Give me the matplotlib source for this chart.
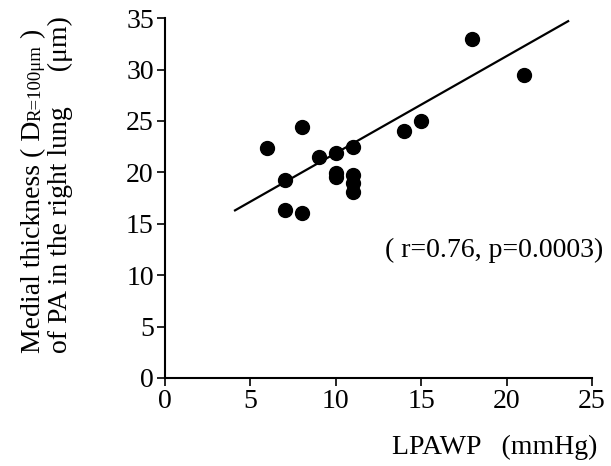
import numpy as np
import matplotlib.pyplot as plt

plt.rcParams['font.family'] = ['Liberation Serif', 'DejaVu Serif']

# data
lpawp = [6, 7, 7, 8, 8, 9, 10, 10, 10, 11, 11, 11, 11, 14, 15, 18, 21]
thickness = [22.4, 19.3, 16.3, 24.4, 16.0, 21.5, 21.9, 19.9, 19.5,
             22.5, 19.7, 19.0, 18.1, 24.0, 25.0, 33.0, 29.5]
fit_x = [4.1, 23.6]
slope, intercept = 0.944, 12.43
xticks = [0, 5, 10, 15, 20, 25]
yticks = [0, 5, 10, 15, 20, 25, 30, 35]

fig = plt.figure(figsize=(6.11, 4.66), dpi=100)
ax = fig.add_axes([0.270, 0.189, 0.699, 0.772])

ax.scatter(lpawp, thickness, s=100, color='black', zorder=3)
fx = np.array(fit_x)
ax.plot(fx, slope * fx + intercept, color='black', lw=1.6)

ax.set_xlim(0, 25)
ax.set_ylim(0, 35)
ax.set_xticks(xticks)
ax.set_yticks(yticks)
ax.tick_params(labelsize=20, width=1.2, length=6, pad=2)
ax.spines['top'].set_visible(False)
ax.spines['right'].set_visible(False)
for s in ['left', 'bottom']:
    ax.spines[s].set_linewidth(1.5)

fig.text(385 / 611, 1 - 250 / 466, '( r=0.76, p=0.0003)', fontsize=20,
         ha='left', va='center')
fig.text(597 / 611, 1 - 447 / 466, 'LPAWP   (mmHg)', fontsize=20,
         ha='right', va='center')

# rotated y label built from pieces
fig.canvas.draw()
r = fig.canvas.get_renderer()


def piece(x_px, y_px, s, size):
    t = fig.text(x_px / 611, y_px / 466, s, fontsize=size, rotation=90,
                 ha='left', va='baseline', rotation_mode='anchor')
    return t.get_window_extent(r).y1


y = piece(40, 466 - 353, 'Medial thickness ( D', 20)
y = piece(40, y, 'R=100μm', 13.5)
piece(40, y, ' )', 20)
piece(67, 466 - 353, 'of PA in the right lung     (μm)', 20)

fig.savefig('out.png', dpi=100)
